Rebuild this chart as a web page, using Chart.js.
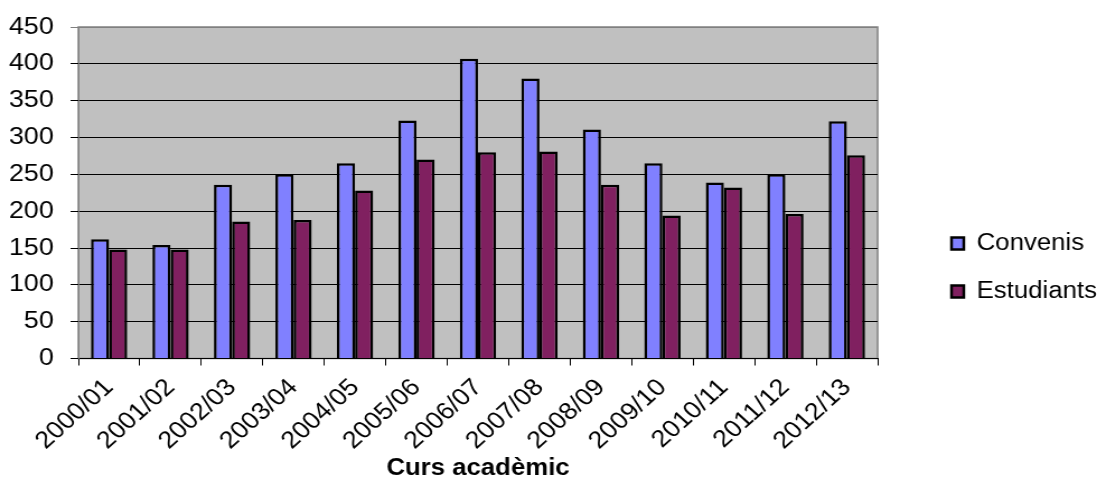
<!DOCTYPE html>
<html>
<head>
<meta charset="utf-8">
<script src="https://cdn.jsdelivr.net/npm/chart.js@4/dist/chart.umd.min.js"></script>
<style>
  html, body { margin: 0; padding: 0; background: #fff; overflow: hidden; }
  /* the original image is a little stretched sideways */
  #wrap { width: 980px; height: 504px; transform: scaleX(1.1194); transform-origin: 0 0; }
</style>
</head>
<body>
<div id="wrap"><canvas id="chart"></canvas></div>
<script>
const cursos = ["2000/01", "2001/02", "2002/03", "2003/04", "2004/05", "2005/06", "2006/07",
  "2007/08", "2008/09", "2009/10", "2010/11", "2011/12", "2012/13"];
const convenis = [162, 154, 236, 250, 265, 323, 407, 380, 311, 265, 239, 250, 322];
const estudiants = [148, 148, 186, 188, 228, 270, 280, 281, 236, 194, 232, 196, 276];
const yTicks = [0, 50, 100, 150, 200, 250, 300, 350, 400, 450];

(function () {
  const font = "Arial, 'Liberation Sans', sans-serif";

  // grey plot background with a grey frame
  const plotBg = {
    id: "plotBg",
    beforeDraw(chart) {
      const { ctx, chartArea: a } = chart;
      ctx.save();
      ctx.fillStyle = "#c0c0c0";
      ctx.fillRect(a.left, a.top, a.right - a.left, a.bottom - a.top);
      ctx.strokeStyle = "#808080";
      ctx.lineWidth = 1.5;
      ctx.strokeRect(a.left, a.top, a.right - a.left, a.bottom - a.top);
      ctx.restore();
    },
  };

  // legend sits well to the right of the plot
  const legendShift = {
    id: "legendShift",
    afterInit(chart) {
      const lg = chart.legend;
      const fit = lg.fit;
      lg.fit = function () {
        fit.call(this);
        this.width = 196;
      };
      const draw = lg.draw;
      lg.draw = function () {
        const ctx = this.ctx;
        ctx.save();
        ctx.translate(41, 2);
        draw.call(this);
        ctx.restore();
      };
    },
  };

  new Chart(document.getElementById("chart"), {
    type: "bar",
    data: {
      labels: cursos,
      datasets: [
        { label: "Convenis", data: convenis, backgroundColor: "#8080ff", borderColor: "#000", borderWidth: 2.5 },
        { label: "Estudiants", data: estudiants, backgroundColor: "#802060", borderColor: "#000", borderWidth: 2.5 },
      ],
    },
    options: {
      responsive: true,
      maintainAspectRatio: false,
      animation: false,
      layout: { padding: { top: 27, left: 0, right: 0, bottom: 0 } },
      datasets: { bar: { categoryPercentage: 0.59, barPercentage: 1.0 } },
      plugins: {
        tooltip: { enabled: false },
        legend: {
          position: "right",
          labels: {
            color: "#000",
            font: { family: font, size: 23 },
            boxWidth: 11,
            boxHeight: 12,
            padding: 25,
          },
        },
      },
      scales: {
        x: {
          afterFit(scale) { scale.height = 145.5; },
          grid: { drawOnChartArea: false, drawTicks: true, tickLength: 7, color: "#000", offset: true },
          border: { color: "#000", width: 1 },
          ticks: { color: "#000", font: { family: font, size: 24 }, minRotation: 45, maxRotation: 45, padding: 8 },
          title: {
            display: true,
            text: "Curs acadèmic",
            color: "#000",
            font: { family: font, size: 23, weight: "bold" },
            padding: { top: 0, bottom: 22 },
          },
        },
        y: {
          min: 0,
          max: 450,
          afterFit(scale) {
            scale.width = 70;
            scale.paddingTop = 0;
            scale.paddingBottom = 0;
          },
          afterBuildTicks(scale) { scale.ticks = yTicks.map(v => ({ value: v })); },
          grid: {
            color: (c) => (c.tick && c.tick.value === 450 ? "#808080" : "#000"),
            tickLength: 7,
            lineWidth: 1,
          },
          border: { color: "#808080", width: 1 },
          ticks: { color: "#000", font: { family: font, size: 24 }, padding: 15 },
        },
      },
    },
    plugins: [plotBg, legendShift],
  });
})();
</script>
</body>
</html>
